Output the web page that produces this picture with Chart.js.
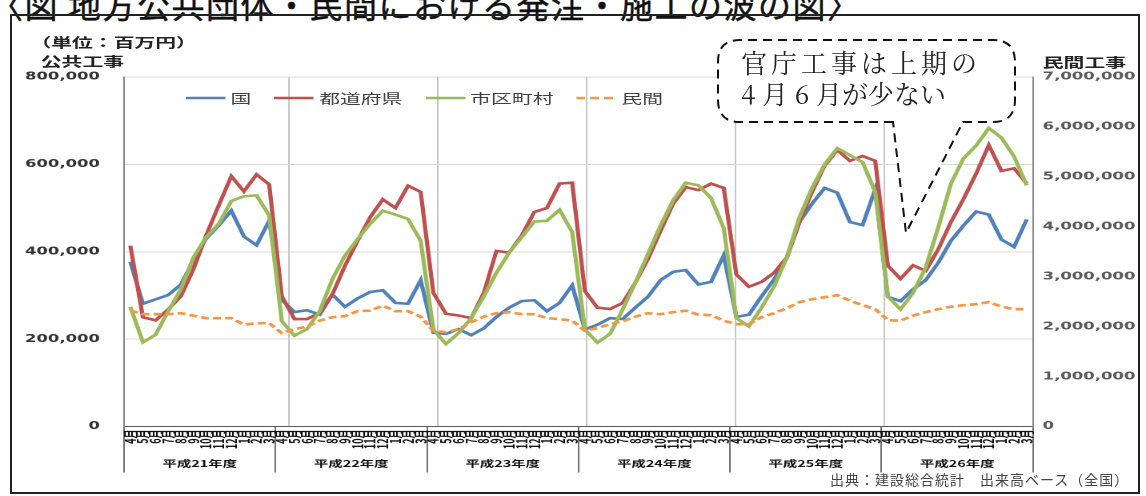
<!DOCTYPE html>
<html lang="ja">
<head>
<meta charset="utf-8">
<title>発注・施工の波</title>
<script src="https://cdn.jsdelivr.net/npm/chart.js@4.4.1/dist/chart.umd.min.js"></script>
<style>
  html, body { margin: 0; padding: 0; background: #fff; }
  body { width: 1146px; height: 496px; position: relative; overflow: hidden; font-family: "Noto Sans CJK JP", sans-serif; }
  #title { position: absolute; left: -10px; top: -12px; font-size: 33px; line-height: 33px; letter-spacing: 1.5px; white-space: nowrap; color: #111; -webkit-text-stroke: 0.4px #111; }
  #frame { position: absolute; left: 10px; top: 14px; width: 1130px; height: 480px; border: 2px solid #222; box-sizing: border-box; }
  #stretch { position: absolute; left: 0; top: 0; width: 716px; height: 496px; transform-origin: 0 0; }
  #chartBox { position: absolute; left: 0; top: 0; width: 716px; height: 496px; }
  .lbl { position: absolute; font-weight: bold; font-size: 13px; line-height: 13px; white-space: nowrap; color: #222; }
  #legend { position: absolute; left: 116px; top: 90px; display: flex; align-items: center; font-size: 13px; line-height: 16px; color: #404040; white-space: nowrap; }
  #legend .item { display: flex; align-items: center; margin-right: 14.4px; }
  #legend svg { margin-right: 3px; }
  #callout { position: absolute; left: 0; top: 0; z-index: 5; }
  #calloutText { position: absolute; left: 741px; top: 47px; z-index: 6; font-family: "Noto Serif CJK JP", "Noto Sans CJK JP", serif; font-size: 26px; line-height: 30.5px; color: #222; white-space: nowrap; }
  #calloutText .l1 { letter-spacing: 4px; }
  #source { position: absolute; left: 830px; top: 471px; font-size: 14px; line-height: 16px; letter-spacing: 1px; color: #444; white-space: nowrap; }
</style>
</head>
<body>
<div id="title">〈図 地方公共団体・民間における発注・施工の波の図〉</div>
<div id="frame"></div>

<div id="stretch">
  <div id="chartBox"><canvas id="chart"></canvas></div>
  <div class="lbl" style="left:19px; top:34.5px;">（単位：百万円）</div>
  <div class="lbl" style="left:25.5px; top:53.5px;">公共工事</div>
  <div class="lbl" style="left:651.5px; top:54.5px;">民間工事</div>
  <div id="legend"></div>
</div>

<svg id="callout" width="1146" height="496">
  <path d="M 893 122 L 740 122 Q 718 122 718 100 L 718 62 Q 718 40 740 40 L 993 40 Q 1015 40 1015 62 L 1015 100 Q 1015 122 993 122 L 963 122 L 906 233 Z"
        fill="#fff" stroke="#111" stroke-width="2" stroke-dasharray="9 6"/>
</svg>
<div id="calloutText"><div class="l1">官庁工事は上期の</div><div>4 月 6 月が少ない</div></div>

<div id="source">出典：建設総合統計　出来高ベース（全国）</div>

<script>
// 月 / 年度
const monthLabels = ['4月', '5月', '6月', '7月', '8月', '9月', '10月', '11月', '12月', '1月', '2月', '3月'];
const fiscalYears = ['平成21年度', '平成22年度', '平成23年度', '平成24年度', '平成25年度', '平成26年度'];

// 公共工事 (百万円, 左軸)
const kuni = [
  377000, 281000, 291000, 301000, 325000, 380000, 430000, 460000, 494000, 435000, 415000, 471000,
  290000, 262000, 266000, 256000, 302000, 274000, 293000, 308000, 312000, 283000, 281000, 335000,
  215000, 212000, 223000, 209000, 225000, 251000, 272000, 287000, 289000, 264000, 283000, 323000,
  222000, 233000, 248000, 246000, 272000, 297000, 335000, 354000, 358000, 325000, 331000, 392000,
  251000, 256000, 298000, 337000, 387000, 468000, 510000, 546000, 535000, 468000, 461000, 543000,
  297000, 287000, 314000, 335000, 375000, 425000, 460000, 492000, 485000, 428000, 411000, 474000
];
const todofuken = [
  414000, 250000, 243000, 268000, 298000, 360000, 437000, 506000, 573000, 538000, 577000, 554000,
  298000, 246000, 246000, 260000, 302000, 368000, 425000, 479000, 520000, 500000, 551000, 537000,
  306000, 258000, 254000, 248000, 306000, 402000, 398000, 437000, 491000, 500000, 556000, 558000,
  310000, 272000, 269000, 283000, 329000, 383000, 448000, 510000, 548000, 541000, 556000, 546000,
  348000, 320000, 331000, 352000, 387000, 468000, 537000, 597000, 633000, 608000, 619000, 608000,
  368000, 338000, 369000, 356000, 406000, 468000, 521000, 579000, 644000, 585000, 591000, 556000
];
const shikuchoson = [
  274000, 193000, 210000, 264000, 314000, 387000, 433000, 464000, 516000, 527000, 529000, 483000,
  241000, 208000, 223000, 264000, 337000, 391000, 429000, 464000, 494000, 485000, 475000, 425000,
  222000, 189000, 214000, 248000, 298000, 352000, 398000, 433000, 469000, 471000, 496000, 445000,
  222000, 192000, 212000, 268000, 329000, 395000, 460000, 518000, 558000, 552000, 523000, 454000,
  248000, 229000, 272000, 321000, 387000, 479000, 546000, 600000, 637000, 621000, 605000, 537000,
  298000, 268000, 306000, 364000, 456000, 556000, 614000, 643000, 683000, 661000, 618000, 552000
];

// 民間工事 (百万円, 右軸)
const minkan = [
  2320000, 2250000, 2250000, 2250000, 2270000, 2220000, 2170000, 2170000, 2170000, 2040000, 2070000, 2070000,
  1870000, 1950000, 2000000, 2120000, 2190000, 2210000, 2310000, 2320000, 2420000, 2310000, 2310000, 2200000,
  1920000, 1890000, 1950000, 2090000, 2200000, 2270000, 2290000, 2250000, 2250000, 2170000, 2150000, 2120000,
  1920000, 1970000, 2050000, 2110000, 2200000, 2270000, 2250000, 2290000, 2320000, 2240000, 2230000, 2120000,
  2050000, 2050000, 2190000, 2270000, 2370000, 2490000, 2550000, 2590000, 2630000, 2520000, 2430000, 2350000,
  2130000, 2120000, 2220000, 2290000, 2350000, 2400000, 2430000, 2450000, 2490000, 2400000, 2350000, 2350000
];

const leftTicks = [0, 200000, 400000, 600000, 800000];
const rightTicks = [0, 1000000, 2000000, 3000000, 4000000, 5000000, 6000000, 7000000];

// the original picture is squeezed into a wide box, so the chart is drawn narrow and stretched
const S = 1146 / 716;
document.getElementById('stretch').style.transform = `scaleX(${S})`;

const series = [
  { label: '国', data: kuni, color: '#4f81bd', axis: 'y', dash: [] },
  { label: '都道府県', data: todofuken, color: '#c0504d', axis: 'y', dash: [] },
  { label: '市区町村', data: shikuchoson, color: '#9bbb59', axis: 'y', dash: [] },
  { label: '民間', data: minkan, color: '#f79646', axis: 'y1', dash: [5, 2.6] }
];

// legend (html, sits inside the plot)
const legendEl = document.getElementById('legend');
series.forEach(s => {
  const item = document.createElement('div');
  item.className = 'item';
  const dash = s.dash.length ? 'stroke-dasharray="5.6 3.1"' : '';
  item.innerHTML = `<svg width="25" height="6"><line x1="0" y1="3" x2="25" y2="3" stroke="${s.color}" stroke-width="2.6" ${dash}/></svg><span>${s.label}</span>`;
  legendEl.appendChild(item);
});

const numFont = { family: "'DejaVu Sans', sans-serif", size: 10.3, weight: 'bold' };
const monthFont = { family: "'Noto Sans CJK JP', sans-serif", size: 9, weight: 'bold' };
const yearFont = { family: "'Noto Sans CJK JP', sans-serif", size: 9, weight: 'bold' };
const fmt = v => Number(v).toLocaleString('en-US');

const labels = fiscalYears.flatMap(() => monthLabels);

new Chart(document.getElementById('chart'), {
  type: 'line',
  data: {
    labels,
    datasets: series.map((s, i) => ({
      label: s.label,
      data: s.data,
      xAxisID: 'x',
      yAxisID: s.axis,
      borderColor: s.color,
      backgroundColor: s.color,
      borderWidth: 2.6,
      borderDash: s.dash,
      pointRadius: 0,
      tension: 0,
      fill: false,
      order: series.length - i
    }))
  },
  options: {
    responsive: true,
    maintainAspectRatio: false,
    animation: false,
    devicePixelRatio: 2,
    layout: { padding: { left: 0, right: 0, top: 77, bottom: 23.5 } },
    plugins: { legend: { display: false }, tooltip: { enabled: false } },
    scales: {
      // vertical grid lines of the original (not on the year borders)
      xg: {
        type: 'linear', position: 'top', min: -0.1092, max: 6.0017,
        afterBuildTicks: s => { s.ticks = [1, 2, 3, 4, 5].map(v => ({ value: v })); },
        afterFit: s => { s.height = 0; },
        ticks: { display: false },
        border: { display: false },
        grid: { drawTicks: false, color: '#c6c6c6', lineWidth: 1 }
      },
      x: {
        type: 'category', position: 'bottom', weight: 0, offset: true,
        afterFit: s => { s.height = 30; },
        border: { display: true, color: '#595959', width: 1 },
        grid: {
          offset: true, drawOnChartArea: false, drawTicks: true, tickLength: 30, lineWidth: 0.7,
          color: c => (c.index === undefined || c.index % 12 === 0) ? '#333' : 'rgba(0,0,0,0)'
        },
        ticks: { autoSkip: false, minRotation: 90, maxRotation: 90, padding: -27, color: '#111', font: monthFont }
      },
      x2: {
        type: 'category', labels: fiscalYears, position: 'bottom', weight: 1, offset: true,
        afterFit: s => { s.height = 16; },
        border: { display: false },
        grid: { offset: true, drawOnChartArea: false, drawTicks: true, tickLength: 16, lineWidth: 0.7, color: '#333' },
        ticks: { maxRotation: 0, padding: -14.5, color: '#111', font: yearFont }
      },
      y: {
        position: 'left',
        min: leftTicks[0], max: leftTicks[leftTicks.length - 1],
        afterFit: s => { s.width = 124 / S; },
        border: { display: true, color: '#868686' },
        grid: { drawTicks: false, color: '#d9d9d9' },
        ticks: { stepSize: leftTicks[1] - leftTicks[0], padding: 15, color: '#333', font: numFont, callback: fmt }
      },
      y1: {
        position: 'right',
        min: rightTicks[0], max: rightTicks[rightTicks.length - 1],
        afterFit: s => { s.width = 716 - 1033 / S; },
        border: { display: true, color: '#868686' },
        grid: { drawOnChartArea: false, drawTicks: false },
        ticks: { stepSize: rightTicks[1] - rightTicks[0], padding: 6, color: '#595959', font: numFont, callback: fmt }
      }
    }
  }
});
</script>
</body>
</html>
